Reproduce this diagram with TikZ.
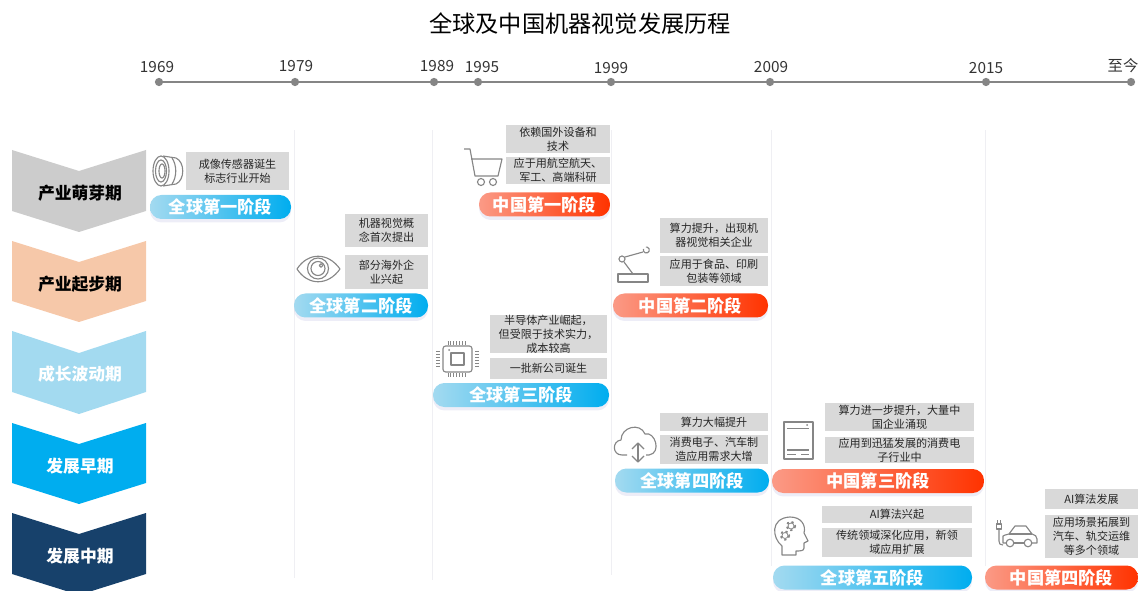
\documentclass[tikz,border=0pt]{standalone}
\usepackage{fontspec}
\setmainfont{Noto Sans CJK SC}
\usepackage{tikz}
\usetikzlibrary{shadows}
\definecolor{linegray}{HTML}{858585}
\definecolor{icongray}{HTML}{868686}
\definecolor{boxgray}{HTML}{D9D9D9}
\definecolor{gridgray}{HTML}{EFEFF3}
\definecolor{sproutgray}{HTML}{CCCCCC}
\definecolor{startpeach}{HTML}{F6C8A9}
\definecolor{growblue}{HTML}{A3DAF0}
\definecolor{earlyblue}{HTML}{00ADEF}
\definecolor{midnavy}{HTML}{17416B}
\definecolor{chinalight}{HTML}{FB9A86}
\definecolor{chinamid}{HTML}{FD6A45}
\definecolor{chinared}{HTML}{FF3300}
\tikzset{
  yeardot/.style={circle,fill=linegray,inner sep=0,minimum size=6.2pt},
  timeline/.style={draw=linegray,line width=2.2pt},
  yearlabel/.style={font=\fontsize{11.5}{13}\selectfont,text=black!80,inner sep=0},
  gridline/.style={draw=gridgray,line width=.7pt},
  period/.style={font=\fontsize{12.6}{15}\selectfont\bfseries,inner sep=0},
  infobox/.style 2 args={fill=boxgray,inner sep=0,align=center,text=black!85,
    font=\fontsize{8.3}{10.4}\selectfont,minimum width=#1*0.75pt,minimum height=#2*0.75pt},
  stage/.style={rounded corners=8.6pt,inner sep=0,text=white,minimum width=#1*0.75pt,minimum height=18pt,
    font=\fontsize{12.9}{15}\selectfont\bfseries,
    drop shadow={shadow xshift=0pt,shadow yshift=-2.6pt,fill=blue!40!gray!40,opacity=.25}},
  globalstage/.style={stage=#1,left color=growblue,middle color=growblue!30!earlyblue,right color=earlyblue},
  chinastage/.style={stage=#1,left color=chinalight,middle color=chinamid,right color=chinared},
  icon/.style={draw=icongray,line width=.85pt,line join=round},
  pins/.style={draw=icongray,line width=3pt,dash pattern=on .65pt off 1.55pt},
  gearteeth/.style={draw=icongray,line width=1.3pt,dash pattern=on 1.7pt off 2.1pt},
}
\begin{document}
\begin{tikzpicture}[x=0.75pt,y=-0.75pt]
\useasboundingbox (0,0) rectangle (1138,591);
\clip (0,0) rectangle (1138,591);
\node[font=\fontsize{17.4}{20}\selectfont,inner sep=0,text=black] (title) at (580,24) {全球及中国机器视觉发展历程};

\node[yeardot] (d1969) at (159,82) {};
\node[yeardot] (d1979) at (295,82) {};
\node[yeardot] (d1989) at (434,82) {};
\node[yeardot] (d1995) at (478,82) {};
\node[yeardot] (d1999) at (611,82) {};
\node[yeardot] (d2009) at (770,82) {};
\node[yeardot] (d2015) at (986,82) {};
\node[yeardot] (dnow) at (1131,82) {};
\draw[timeline] (d1969) -- (dnow);
\node[yearlabel] (y1969) at (157,67.5) {1969};
\node[yearlabel] (y1979) at (296,66.5) {1979};
\node[yearlabel] (y1989) at (437,66.5) {1989};
\node[yearlabel] (y1995) at (482,67) {1995};
\node[yearlabel] (y1999) at (611,68) {1999};
\node[yearlabel] (y2009) at (771,67.5) {2009};
\node[yearlabel] (y2015) at (986,68) {2015};
\node[yearlabel] (ynow) at (1123,66) {至今};

\draw[gridline] (294,130) -- (294,578);
\draw[gridline] (432.5,130) -- (432.5,580);
\draw[gridline] (611,130) -- (611,575);
\draw[gridline] (771.5,130) -- (771.5,566);
\draw[gridline] (985,130) -- (985,566);

\fill[sproutgray] (12,150) -- (79,171) -- (146,150) -- (146,211) -- (79,232) -- (12,211) -- cycle;
\fill[startpeach] (12,241) -- (79,262) -- (146,241) -- (146,301) -- (79,322) -- (12,301) -- cycle;
\fill[growblue] (12,331) -- (79,353) -- (146,331) -- (146,392) -- (79,414) -- (12,392) -- cycle;
\fill[earlyblue] (12,423) -- (79,444) -- (146,423) -- (146,483) -- (79,504) -- (12,483) -- cycle;
\fill[midnavy] (12,513) -- (79,534) -- (146,513) -- (146,574) -- (79,595) -- (12,574) -- cycle;
\node[period] (sprout) at (80,193) {产业萌芽期};
\node[period] (start) at (80,284) {产业起步期};
\node[period,text=white] (grow) at (80,374) {成长波动期};
\node[period,text=white] (early) at (80,466) {发展早期};
\node[period,text=white] (middle) at (80,556) {发展中期};

\node[infobox={103}{38}] (sensor) at (237.5,171) {成像传感器诞生\\标志行业开始};
\node[infobox={83}{33}] (concept) at (386.5,230.5) {机器视觉概\\念首次提出};
\node[infobox={83}{34}] (overseas) at (386.5,272) {部分海外企\\业兴起};
\node[infobox={104}{28}] (imports) at (558,139) {依赖国外设备和\\技术};
\node[infobox={104}{27}] (aero) at (558,170.5) {应于用航空航天、\\军工、高端科研};
\node[infobox={117}{38}] (semi) at (548.5,334) {半导体产业崛起，\\但受限于技术实力，\\成本较高};
\node[infobox={117}{21}] (newco) at (548.5,368.5) {一批新公司诞生};
\node[infobox={108}{35}] (power) at (714,235.5) {算力提升，出现机\\器视觉相关企业};
\node[infobox={108}{30}] (food) at (714,271) {应用于食品、印刷\\包装等领域};
\node[infobox={108}{18}] (surge) at (714,422) {算力大幅提升};
\node[infobox={108}{29}] (demand) at (714,449.5) {消费电子、汽车制\\造应用需求大增};
\node[infobox={149}{28}] (further) at (899.5,417) {算力进一步提升，大量中\\国企业涌现};
\node[infobox={149}{26}] (consumer) at (899.5,450) {应用到迅猛发展的消费电\\子行业中};
\node[infobox={150}{17}] (airise) at (897,514.5) {AI算法兴起};
\node[infobox={150}{29}] (deepen) at (897,542.5) {传统领域深化应用，新领\\域应用扩展};
\node[infobox={93}{20}] (aigrow) at (1091.5,499) {AI算法发展};
\node[infobox={93}{43}] (scene) at (1091.5,536.5) {应用场景拓展到\\汽车、轨交运维\\等多个领域};

\node[globalstage=141] (g1) at (220.5,207) {全球第一阶段};
\node[globalstage=134] (g2) at (361,305.5) {全球第二阶段};
\node[chinastage=131] (c1) at (544.5,204.5) {中国第一阶段};
\node[globalstage=176] (g3) at (521,395) {全球第三阶段};
\node[chinastage=155] (c2) at (690.5,305.5) {中国第二阶段};
\node[globalstage=154] (g4) at (692,480.5) {全球第四阶段};
\node[chinastage=212] (c3) at (878,481) {中国第三阶段};
\node[globalstage=199] (g5) at (872.5,577.5) {全球第五阶段};
\node[chinastage=153] (c4) at (1061.5,577.5) {中国第四阶段};

\draw[icon] (161,171) ellipse (8 and 15);
\draw[icon] (161,171) ellipse (5.5 and 11);
\draw[icon] (162,171) ellipse (3 and 7);
\draw[icon] (163,156) -- (176,158) .. controls (185,162) and (185,180) .. (176,184) -- (163,186);
\draw[icon] (172,158) .. controls (177,165) and (177,177) .. (172,184);

\draw[icon] (297,269) .. controls (308,252) and (328,252) .. (340,269) .. controls (328,286) and (308,286) .. (297,269) -- cycle;
\draw[icon] (318,268.5) circle (10.5);
\draw[icon] (318,268.5) circle (7);
\draw[icon] (321,265.5) circle (1.8);

\draw[icon] (464,149) -- (470,149) -- (475,176) -- (498,176) -- (502,159) -- (471,159);
\draw[icon] (481,182) circle (3.5);
\draw[icon] (493,182) circle (3.5);

\draw[icon,rounded corners=2pt] (443,346) rectangle (472,372);
\draw[icon] (451,353) rectangle (464,365);
\fill[icongray] (449,350) circle (1);
\draw[pins] (447.5,343) -- (468,343);
\draw[pins] (447.5,375) -- (468,375);
\draw[pins] (438,351) -- (438,367);
\draw[pins] (476.5,351) -- (476.5,367);

\draw[icon] (618,274) rectangle (648,282);
\draw[icon] (622,259) circle (3);
\draw[icon] (624,262) -- (633,274);
\draw[icon] (625,257) -- (643,252);
\draw[icon] (643.5,249) arc[start angle=200, end angle=-100, radius=3];

\draw[icon] (627,455) -- (622,455) .. controls (612,455) and (612,441) .. (621,440) .. controls (621,427) and (640,422) .. (645,434) .. controls (655,431) and (662,453) .. (649,455) -- (646,455);
\draw[icon] (632,449) -- (638,443) -- (644,449);
\draw[icon] (638,443) -- (638,462);
\draw[icon] (632,456) -- (638,462) -- (644,456);

\draw[icon] (784,422) rectangle (813,459);
\draw[icon] (787,428.5) -- (809,428.5);
\draw[icon] (787,450) -- (809,450);
\draw[icon] (787,454.5) -- (796,454.5);
\draw[icon] (801,454.5) -- (809,454.5);
\fill[icongray] (807,425) circle (1);

\draw[icon] (782,555) -- (782,546) .. controls (772,538) and (770,518) .. (790,517) .. controls (802,517) and (806,526) .. (804,533) -- (808,541) -- (804,543) -- (804,548) .. controls (804,551) and (800,551) .. (796,551) -- (796,555) -- cycle;
\draw[icon,line width=.6pt] (791,526) circle (3);
\draw[gearteeth] (791,526) circle (4.3);
\draw[icon,line width=.6pt] (785,535.5) circle (3);
\draw[gearteeth] (785,535.5) circle (4.3);

\draw[icon] (1006,543) -- (1003,543) -- (1003,536) .. controls (1004,535) and (1006,535) .. (1009,534) -- (1015,526) -- (1026,526) -- (1032,534) .. controls (1035,535) and (1037,536) .. (1037,539) -- (1037,543) -- (1032,543);
\draw[icon] (1014,543) -- (1024,543);
\draw[icon] (1009,534) -- (1032,534);
\draw[icon] (1010,543) circle (3.8);
\draw[icon] (1028,543) circle (3.8);
\draw[icon] (996.5,524) rectangle (1001.5,529);
\draw[icon] (997.5,524) -- (997.5,520);
\draw[icon] (1000.5,524) -- (1000.5,520);
\draw[icon] (999,529) -- (999,541) .. controls (999,544) and (1000,545) .. (1003,545);
\end{tikzpicture}
\end{document}
